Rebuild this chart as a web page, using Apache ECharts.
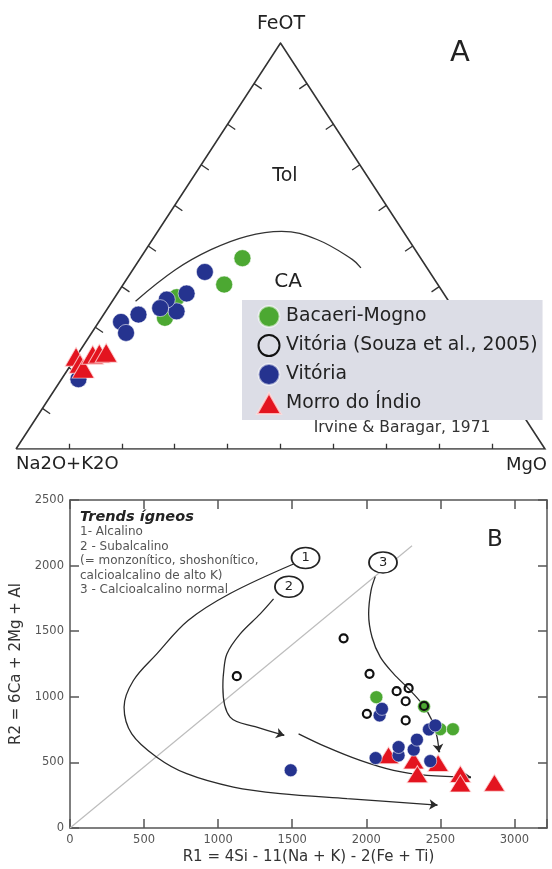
<!DOCTYPE html>
<html>
<head>
<meta charset="utf-8">
<script src="https://cdn.jsdelivr.net/npm/echarts@6/dist/echarts.min.js"></script>
<style>
  html, body { margin: 0; padding: 0; background: #ffffff; }
  #chart { width: 552px; height: 869px; }
</style>
</head>
<body>
<div id="chart"></div>
<script>
// ---------- Panel A: AFM diagram, compositions as [Na2O+K2O, FeOT, MgO] (%) ----------
const afmBacaeri = [[33.7, 47.0, 19.3], [40.4, 40.5, 19.1], [50.9, 37.4, 11.7], [55.7, 32.3, 12.0]];
const afmVitoria = [[42.5, 43.6, 13.9], [48.6, 38.3, 13.1], [52.7, 33.9, 13.4], [53.1, 36.8, 10.1],
                    [55.4, 34.7, 9.9], [60.3, 33.1, 6.6], [64.5, 31.3, 4.2], [64.9, 28.6, 6.5], [79.6, 17.2, 3.2]];
const afmMorro = [[77.3, 22.7, 0.0], [77.4, 21.0, 1.6], [77.4, 19.8, 2.8], [73.9, 23.2, 2.9],
                  [72.5, 23.5, 4.0], [71.1, 23.7, 5.2]];
// Irvine & Baragar (1971) tholeiitic / calc-alkaline divide
const afmDivide = [[59.2, 36.4, 4.4], [47.7, 44.2, 8.1], [38.6, 49.1, 12.3], [30.2, 52.4, 17.4],
                   [23.0, 53.6, 23.4], [17.3, 51.6, 31.1], [13.1, 46.7, 40.2], [12.5, 44.6, 42.9]];
const afmTicks = [10, 20, 30, 40, 50, 60, 70, 80, 90];

// ---------- Panel B: R1-R2 diagram ----------
const r1r2Bacaeri = [[2068, 997], [2390, 926], [2500, 753], [2585, 753]];
const r1r2Souza = [[1126, 1157], [1847, 1446], [2022, 1175], [2205, 1043], [2286, 1066],
                   [2266, 966], [2004, 870], [2266, 820], [2390, 930]];
const r1r2Vitoria = [[1490, 440], [2063, 533], [2090, 858], [2106, 908], [2218, 553], [2218, 617],
                     [2320, 597], [2342, 673], [2423, 751], [2466, 782], [2432, 510]];
const r1r2Morro = [[2150, 555], [2320, 515], [2485, 495], [2345, 410], [2635, 412], [2635, 340], [2865, 345]];

// igneous trends (1 alkaline, 2 subalkaline, 3 normal calc-alkaline)
const trend1 = [[1509, 2012], [1081, 1787], [797, 1581], [586, 1327], [428, 1124], [365, 921], [417, 718],
                [586, 540], [788, 414], [1103, 312], [1419, 262], [1870, 224], [2480, 175]];
const trend2a = [[1374, 1746], [1284, 1632], [1149, 1480], [1059, 1327], [1036, 1175], [1032, 1073],
                 [1081, 845], [1250, 772], [1446, 706]];
const trend2b = [[1543, 718], [1734, 616], [1959, 515], [2184, 439], [2410, 401], [2707, 388]];
const trend3 = [[2061, 1916], [2032, 1809], [2016, 1632], [2039, 1454], [2095, 1302], [2185, 1175],
                [2286, 1061], [2376, 947], [2444, 820], [2478, 693], [2491, 578]];
const trendTags = [['1', 1590, 2058], ['2', 1478, 1839], ['3', 2113, 2024]];
const oneToOne = [[0, 0], [2309, 2151]];

const r1Max = 3220, r2Max = 2500, tickStep = 500;

const FONT = '"DejaVu Sans", sans-serif';
const BLUE = '#25338f', GREEN = '#4ca832', RED = '#e3141f';

// ternary -> plane: base runs Na2O+K2O (0) to MgO (100), apex FeOT
function toXY(c) {
  const s = c[0] + c[1] + c[2];
  const f = c[1] * 100 / s, m = c[2] * 100 / s;
  return [m + f / 2, f];
}

const triangleOutline = [[100, 0, 0], [0, 100, 0], [0, 0, 100], [100, 0, 0]].map(toXY);
const afmTickSegs = [];
afmTicks.forEach(t => {
  afmTickSegs.push({ coords: [[t, 0], [t, 1.3]] });
  const l = toXY([100 - t, t, 0]);
  afmTickSegs.push({ coords: [l, [l[0] + 1.45, l[1] - 1.3]] });
  const r = toXY([0, t, 100 - t]);
  afmTickSegs.push({ coords: [r, [r[0] - 1.45, r[1] - 1.3]] });
});

function arrowHead(curve) {
  const n = curve.length, a = curve[n - 2], b = curve[n - 1];
  return { coords: [[b[0] - (b[0] - a[0]) * 0.08, b[1] - (b[1] - a[1]) * 0.08], b] };
}

const chart = echarts.init(document.getElementById('chart'), null, { renderer: 'canvas' });

const hiddenAxis = { type: 'value', min: 0, max: 100, show: false };
const axisCommon = {
  type: 'value',
  axisLine: { show: true, onZero: false, lineStyle: { color: '#555', width: 1.5 } },
  axisTick: { show: true, inside: true, length: 9, lineStyle: { color: '#555', width: 1.5 } },
  splitLine: { show: false }
};
const tickLabel = {
  fontFamily: FONT, fontSize: 11.5, color: '#555', margin: 6,
  formatter: v => (v % tickStep === 0 ? String(v) : '')
};

const curveStyle = { color: '#2a2a2a', width: 1.3, opacity: 1 };
function trendLine(data) {
  return {
    type: 'line', xAxisIndex: 1, yAxisIndex: 1, data: data, smooth: 0.35,
    showSymbol: false, symbol: 'none', silent: true, z: 1, lineStyle: curveStyle
  };
}
const markerEdge = { borderColor: 'rgba(255,255,255,0.55)', borderWidth: 1, opacity: 1 };

const option = {
  animation: false,
  backgroundColor: '#ffffff',
  grid: [
    { left: 16, top: 43, width: 529, height: 406, containLabel: false, outerBoundsMode: 'none' },
    { left: 70, top: 500, width: 477, height: 328, containLabel: false, outerBoundsMode: 'none' }
  ],
  xAxis: [
    Object.assign({ gridIndex: 0 }, hiddenAxis),
    Object.assign({}, axisCommon, {
      gridIndex: 1, min: 0, max: r1Max, interval: tickStep, position: 'bottom',
      axisLabel: tickLabel,
      name: 'R1 = 4Si - 11(Na + K) - 2(Fe + Ti)', nameLocation: 'middle', nameGap: 22,
      nameTextStyle: { fontFamily: FONT, fontSize: 15, color: '#333' }
    }),
    Object.assign({}, axisCommon, {
      gridIndex: 1, min: 0, max: r1Max, interval: tickStep, position: 'top',
      axisLabel: { show: false }
    })
  ],
  yAxis: [
    Object.assign({ gridIndex: 0 }, hiddenAxis),
    Object.assign({}, axisCommon, {
      gridIndex: 1, min: 0, max: r2Max, interval: tickStep, position: 'left',
      axisLabel: tickLabel,
      name: 'R2 = 6Ca + 2Mg + Al', nameLocation: 'middle', nameGap: 45,
      nameTextStyle: { fontFamily: FONT, fontSize: 15, color: '#333' }
    }),
    Object.assign({}, axisCommon, {
      gridIndex: 1, min: 0, max: r2Max, interval: tickStep, position: 'right',
      axisLabel: { show: false }
    })
  ],
  legend: {
    orient: 'vertical', left: 242, top: 300,
    backgroundColor: '#dcdde6', padding: [5, 5, 5, 14],
    itemWidth: 24, itemHeight: 21, itemGap: 6, itemTextGap: 6,
    selectedMode: false,
    textStyle: { fontFamily: FONT, fontSize: 18.8, color: '#222' },
    data: [
      { name: 'Bacaeri-Mogno', icon: 'circle' },
      { name: 'Vitória (Souza et al., 2005)', icon: 'circle' },
      { name: 'Vitória', icon: 'circle' },
      { name: 'Morro do Índio', icon: 'triangle' }
    ]
  },
  graphic: [
    { type: 'text', x: 281, y: 24, style: { text: 'FeOT', font: '19px ' + FONT, fill: '#222', align: 'center', verticalAlign: 'middle' } },
    { type: 'text', x: 460, y: 53, style: { text: 'A', font: '29px ' + FONT, fill: '#222', align: 'center', verticalAlign: 'middle' } },
    { type: 'text', x: 285, y: 176, style: { text: 'Tol', font: '19px ' + FONT, fill: '#222', align: 'center', verticalAlign: 'middle' } },
    { type: 'text', x: 288, y: 282, style: { text: 'CA', font: '20px ' + FONT, fill: '#222', align: 'center', verticalAlign: 'middle' } },
    { type: 'text', x: 16, y: 464, style: { text: 'Na2O+K2O', font: '18px ' + FONT, fill: '#222', align: 'left', verticalAlign: 'middle' } },
    { type: 'text', x: 547, y: 465, style: { text: 'MgO', font: '18px ' + FONT, fill: '#222', align: 'right', verticalAlign: 'middle' } },
    { type: 'text', x: 402, y: 428, style: { text: 'Irvine & Baragar, 1971', font: '15.5px ' + FONT, fill: '#333', align: 'center', verticalAlign: 'middle' } },
    { type: 'text', x: 495, y: 540, style: { text: 'B', font: '23px ' + FONT, fill: '#222', align: 'center', verticalAlign: 'middle' } },
    { type: 'text', x: 80, y: 517, style: { text: 'Trends ígneos', font: 'italic bold 14.5px ' + FONT, fill: '#222', align: 'left', verticalAlign: 'middle' } },
    { type: 'text', x: 80, y: 532, style: { text: '1- Alcalino', font: '12px ' + FONT, fill: '#555', align: 'left', verticalAlign: 'middle' } },
    { type: 'text', x: 80, y: 546.5, style: { text: '2 - Subalcalino', font: '12px ' + FONT, fill: '#555', align: 'left', verticalAlign: 'middle' } },
    { type: 'text', x: 80, y: 561, style: { text: '(= monzonítico, shoshonítico,', font: '12px ' + FONT, fill: '#555', align: 'left', verticalAlign: 'middle' } },
    { type: 'text', x: 80, y: 575.5, style: { text: 'calcioalcalino de alto K)', font: '12px ' + FONT, fill: '#555', align: 'left', verticalAlign: 'middle' } },
    { type: 'text', x: 80, y: 590, style: { text: '3 - Calcioalcalino normal', font: '12px ' + FONT, fill: '#555', align: 'left', verticalAlign: 'middle' } }
  ],
  series: [
    // ----- Panel A -----
    {
      type: 'lines', coordinateSystem: 'cartesian2d', xAxisIndex: 0, yAxisIndex: 0,
      polyline: true, silent: true, z: 1,
      lineStyle: { color: '#333', width: 1.6, opacity: 1 },
      data: [{ coords: triangleOutline }]
    },
    {
      type: 'line', xAxisIndex: 0, yAxisIndex: 0, data: afmDivide.map(toXY), smooth: 0.4,
      showSymbol: false, symbol: 'none', silent: true, z: 1,
      lineStyle: { color: '#333', width: 1.3, opacity: 1 }
    },
    {
      type: 'lines', coordinateSystem: 'cartesian2d', xAxisIndex: 0, yAxisIndex: 0,
      silent: true, z: 1, lineStyle: { color: '#333', width: 1.3, opacity: 1 },
      data: afmTickSegs
    },
    {
      name: 'Bacaeri-Mogno', type: 'scatter', xAxisIndex: 0, yAxisIndex: 0, z: 3,
      symbol: 'circle', symbolSize: 17,
      itemStyle: Object.assign({ color: GREEN }, markerEdge),
      data: afmBacaeri.map(toXY)
    },
    {
      name: 'Vitória', type: 'scatter', xAxisIndex: 0, yAxisIndex: 0, z: 3,
      symbol: 'circle', symbolSize: 17,
      itemStyle: Object.assign({ color: BLUE }, markerEdge),
      data: afmVitoria.map(toXY)
    },
    {
      name: 'Morro do Índio', type: 'scatter', xAxisIndex: 0, yAxisIndex: 0, z: 4,
      symbol: 'triangle', symbolSize: [22, 19],
      itemStyle: { color: RED, borderColor: 'rgba(255,220,220,0.8)', borderWidth: 1, opacity: 1 },
      data: afmMorro.map(toXY)
    },
    // ----- Panel B -----
    {
      type: 'line', xAxisIndex: 1, yAxisIndex: 1, data: oneToOne, showSymbol: false, symbol: 'none',
      silent: true, z: 0, lineStyle: { color: '#bdbdbd', width: 1.2 }
    },
    trendLine(trend1),
    trendLine(trend2a),
    trendLine(trend2b),
    trendLine(trend3),
    {
      type: 'lines', coordinateSystem: 'cartesian2d', xAxisIndex: 1, yAxisIndex: 1,
      silent: true, z: 1, symbol: ['none', 'arrow'], symbolSize: 8,
      lineStyle: curveStyle,
      data: [arrowHead(trend1), arrowHead(trend2a), arrowHead(trend2b), arrowHead(trend3)]
    },
    {
      type: 'scatter', xAxisIndex: 1, yAxisIndex: 1, z: 2, silent: true,
      symbol: 'path://M0 50A50 50 0 1 1 100 50A50 50 0 1 1 0 50Z', symbolSize: [28, 21],
      itemStyle: { color: '#ffffff', borderColor: '#222', borderWidth: 1.6, opacity: 1 },
      label: { show: true, position: 'inside', formatter: p => p.data[2], fontFamily: FONT, fontSize: 13, color: '#222' },
      data: trendTags.map(t => [t[1], t[2], t[0]])
    },
    {
      name: 'Bacaeri-Mogno', type: 'scatter', xAxisIndex: 1, yAxisIndex: 1, z: 3,
      symbol: 'circle', symbolSize: 13,
      itemStyle: Object.assign({ color: GREEN }, markerEdge),
      data: r1r2Bacaeri
    },
    {
      name: 'Morro do Índio', type: 'scatter', xAxisIndex: 1, yAxisIndex: 1, z: 3,
      symbol: 'triangle', symbolSize: [21, 17],
      itemStyle: { color: RED, borderColor: 'rgba(255,220,220,0.8)', borderWidth: 1, opacity: 1 },
      data: r1r2Morro
    },
    {
      name: 'Vitória', type: 'scatter', xAxisIndex: 1, yAxisIndex: 1, z: 3,
      symbol: 'circle', symbolSize: 13,
      itemStyle: Object.assign({ color: BLUE }, markerEdge),
      data: r1r2Vitoria
    },
    {
      name: 'Vitória (Souza et al., 2005)', type: 'scatter', xAxisIndex: 1, yAxisIndex: 1, z: 3,
      symbol: 'circle', symbolSize: 8,
      itemStyle: { color: 'rgba(255,255,255,0)', borderColor: '#111', borderWidth: 2.2, opacity: 1 },
      data: r1r2Souza
    }
  ]
};

chart.setOption(option);
</script>
</body>
</html>
